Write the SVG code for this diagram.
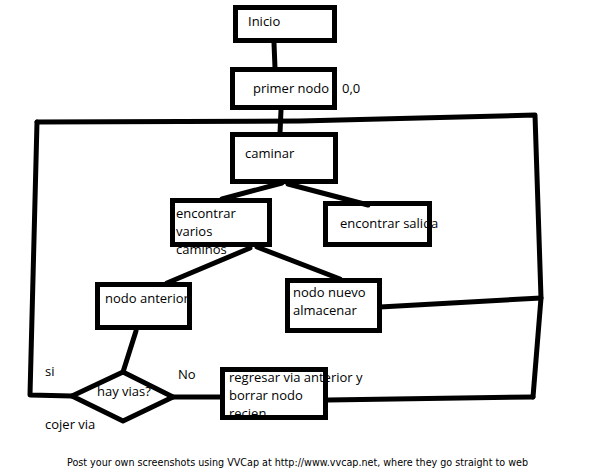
<svg xmlns="http://www.w3.org/2000/svg" width="596" height="470" viewBox="0 0 596 470">
<style>
.bg{fill:#ffffff}
.box{fill:none;stroke:#000;stroke-width:5}
.ln{fill:none;stroke:#000;stroke-width:5;stroke-linejoin:round;stroke-linecap:round}
.t{font-family:"Open Sans","Liberation Sans",sans-serif;font-size:13px;fill:#000}
.f{font-family:"DejaVu Sans","Liberation Sans",sans-serif;font-size:11px;fill:#000}
</style>
<rect class="bg" x="0" y="0" width="596" height="470"/>
<g id="connectors">
<line class="ln" x1="274" y1="43" x2="275" y2="68"/>
<line class="ln" x1="281" y1="110" x2="280" y2="133"/>
<polyline class="ln" points="37,122 300,121 535,115 541,298 533,397"/>
<polyline class="ln" points="37,122 30,395 72,396"/>
<line class="ln" x1="282" y1="183" x2="222" y2="199"/>
<line class="ln" x1="288" y1="184" x2="368" y2="205"/>
<line class="ln" x1="250" y1="248" x2="167" y2="283"/>
<line class="ln" x1="257" y1="247" x2="340" y2="279"/>
<line class="ln" x1="136" y1="331" x2="123" y2="372"/>
<line class="ln" x1="173" y1="397" x2="222" y2="397"/>
<line class="ln" x1="328" y1="400" x2="533" y2="397"/>
<line class="ln" x1="380" y1="307" x2="541" y2="298"/>
</g>
<g id="inicio">
<text class="t" x="248" y="26">Inicio</text>
<rect class="box" x="235.5" y="7.5" width="99" height="33"/>
</g>
<g id="primer-nodo">
<text class="t" x="253" y="93">primer nodo</text>
<rect class="box" x="232.5" y="69.5" width="102" height="38"/>
</g>
<g id="label-00">
<text class="t" x="342" y="93">0,0</text>
</g>
<g id="caminar">
<text class="t" x="245" y="158">caminar</text>
<rect class="box" x="232.5" y="134.5" width="103" height="47"/>
</g>
<g id="encontrar-varios">
<text class="t" x="176" y="218">encontrar</text>
<text class="t" x="176" y="236">varios</text>
<text class="t" x="176" y="254">caminos</text>
<rect class="box" x="172.5" y="200.5" width="97" height="44"/>
</g>
<g id="encontrar-salida">
<text class="t" x="340" y="228">encontrar salida</text>
<rect class="box" x="325.5" y="203.5" width="104" height="41"/>
</g>
<g id="nodo-anterior">
<text class="t" x="105" y="303">nodo anterior</text>
<rect class="box" x="97.5" y="284.5" width="92" height="43"/>
</g>
<g id="nodo-nuevo">
<text class="t" x="293" y="297">nodo nuevo</text>
<text class="t" x="293" y="315">almacenar</text>
<rect class="box" x="287.5" y="280.5" width="92" height="50"/>
</g>
<g id="hay-vias">
<text class="t" x="97" y="396">hay vias?</text>
<polygon class="ln" points="72,396 123,372 173,397 123,421"/>
</g>
<g id="regresar">
<text class="t" x="229" y="382">regresar via anterior y</text>
<text class="t" x="229" y="400">borrar nodo</text>
<text class="t" x="229" y="418">recien</text>
<rect class="box" x="222.5" y="369.5" width="103" height="48"/>
</g>
<g id="labels">
<text class="t" x="45" y="376">si</text>
<text class="t" x="178" y="379">No</text>
<text class="t" x="45" y="429">cojer via</text>
</g>
<g id="footer">
<text class="f" x="67" y="466" textLength="461" lengthAdjust="spacingAndGlyphs">Post your own screenshots using VVCap at http://www.vvcap.net, where they go straight to web</text>
</g>
</svg>
